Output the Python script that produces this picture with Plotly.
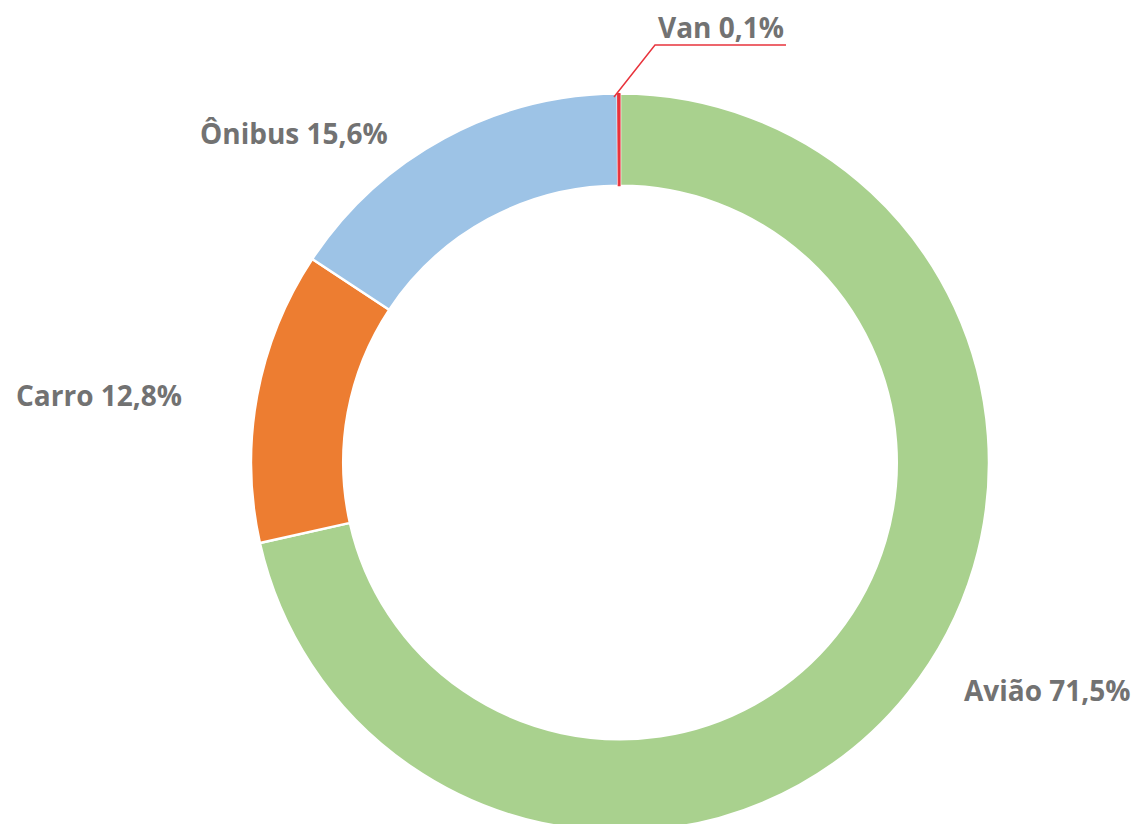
import plotly.graph_objects as go

categories = ["Avião", "Carro", "Ônibus", "Van"]
values = [71.5, 12.8, 15.6, 0.1]
value_labels = ["71,5%", "12,8%", "15,6%", "0,1%"]
colors = ["#A9D18E", "#ED7D31", "#9DC3E6", "#E8333C"]

W, H = 1144, 824
OFF = 8  # page body margin offset

def px(x):
    return (x - OFF) / W

def py(y):
    return 1 - (y - OFF) / H

fig = go.Figure(go.Pie(
    labels=categories,
    values=values,
    sort=False,
    direction="clockwise",
    rotation=0,
    hole=0.75,
    marker=dict(colors=colors,
                line=dict(color=["white", "white", "white", "#E8333C"],
                          width=[2.5, 2.5, 2.5, 1.2])),
    textinfo="none",
    hoverinfo="label+percent",
    domain=dict(x=[px(251), px(989)], y=[max(0.0, py(832)), py(93)]),
    showlegend=False,
))

label_pos = {
    "Avião": (962, 690),
    "Carro": (14, 395),
    "Ônibus": (198, 133),
    "Van": (656, 27),
}
annotations = []
for cat, lab in zip(categories, value_labels):
    lx, ly = label_pos[cat]
    annotations.append(dict(
        x=px(lx), y=py(ly), xref="paper", yref="paper",
        xanchor="left", yanchor="middle", showarrow=False,
        text=f"<b>{cat} {lab}</b>",
        font=dict(family="Open Sans", size=28, color="#727272"),
    ))

shapes = [dict(
    type="path", xref="paper", yref="paper",
    path=f"M {px(786)},{py(45)} L {px(655)},{py(45)} L {px(614)},{py(97)}",
    line=dict(color="#E8333C", width=1.5),
)]

fig.update_layout(
    width=W, height=H,
    margin=dict(l=0, r=0, t=0, b=0),
    paper_bgcolor="white",
    plot_bgcolor="white",
    annotations=annotations,
    shapes=shapes,
)

fig.write_html("out.html")
